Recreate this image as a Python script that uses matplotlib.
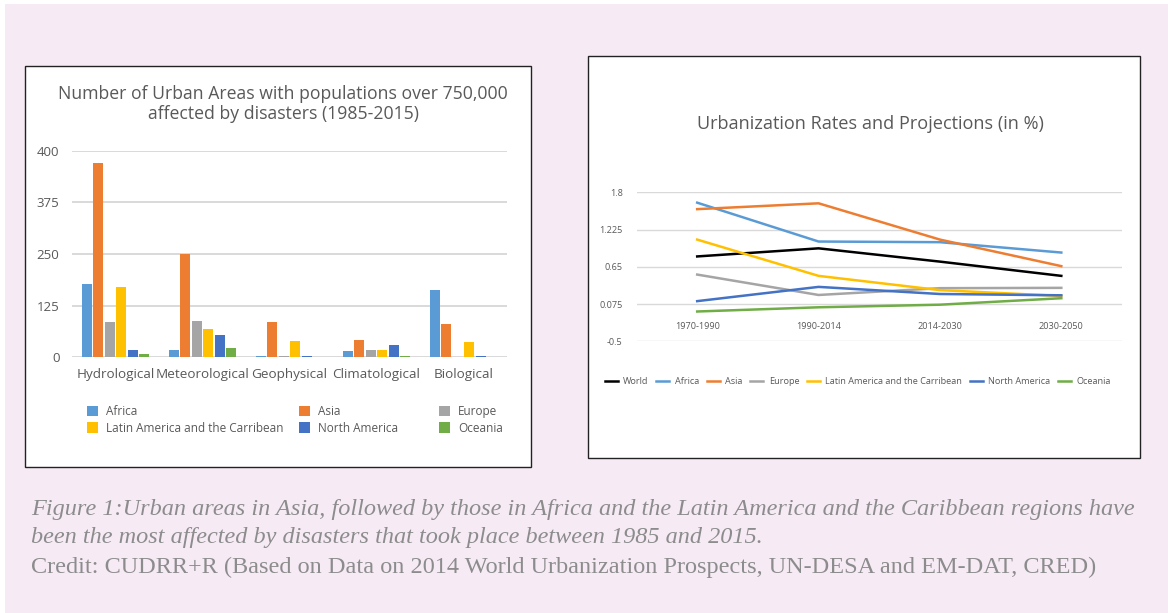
import numpy as np
import matplotlib
matplotlib.use('Agg')
import matplotlib.pyplot as plt
from matplotlib.patches import Rectangle
from matplotlib.lines import Line2D

plt.rcParams['font.family'] = ['Open Sans', 'DejaVu Sans']

# Left chart: urban areas affected by disasters (1985-2015)
disasters = ['Hydrological', 'Meteorological', 'Geophysical', 'Climatological', 'Biological']
regions = ['Africa', 'Asia', 'Europe', 'Latin America and the Carribean', 'North America', 'Oceania']
region_colors = ['#5B9BD5', '#ED7D31', '#A5A5A5', '#FFC000', '#4472C4', '#70AD47']

# bar heights as drawn against the axis (grid lines are equally spaced, labels as printed)
africa = [142, 14, 2.6, 12, 130]
asia = [376, 200, 68, 34, 65]
europe = [68, 70, 2.6, 14, 0]
latin_america = [136, 55, 32, 14, 30]
north_america = [14, 43, 2.6, 24, 2.6]
oceania = [6.5, 18, 0, 2.6, 0]
bar_ticks = [0, 100, 200, 300, 400]
bar_tick_labels = ['0', '125', '250', '375', '400']

# Right chart: urbanization rates and projections (in %)
periods = ['1970-1990', '1990-2014', '2014-2030', '2030-2050']
line_names = ['World', 'Africa', 'Asia', 'Europe', 'Latin America and the Carribean',
              'North America', 'Oceania']
line_colors = ['#000000', '#5B9BD5', '#ED7D31', '#A5A5A5', '#FFC000', '#4472C4', '#70AD47']
world = [0.81, 0.935, 0.73, 0.51]
africa_rate = [1.64, 1.04, 1.03, 0.87]
asia_rate = [1.54, 1.63, 1.07, 0.66]
europe_rate = [0.53, 0.215, 0.32, 0.325]
latin_america_rate = [1.07, 0.51, 0.29, 0.20]
north_america_rate = [0.12, 0.34, 0.23, 0.21]
oceania_rate = [-0.04, 0.025, 0.065, 0.165]
rate_ticks = [-0.5, 0.075, 0.65, 1.225, 1.8]
rate_tick_labels = ['-0.5', '0.075', '0.65', '1.225', '1.8']

caption_lines = [
    'Figure 1:Urban areas in Asia, followed by those in Africa and the Latin America and the Caribbean regions have',
    'been the most affected by disasters that took place between 1985 and 2015.',
    'Credit: CUDRR+R (Based on Data on 2014 World Urbanization Prospects, UN-DESA and EM-DAT, CRED)',
]

W, H = 1168, 613
TEXT = '#595959'
GRID = '#D9D9D9'


def fx(px):
    return px / W


def fy(py):
    return 1 - py / H


fig = plt.figure(figsize=(W / 100, H / 100), dpi=100, facecolor='white')

# pink page background and the two white chart panels
fig.add_artist(Rectangle((fx(5), 0), 1 - fx(5), fy(4), transform=fig.transFigure,
                         facecolor='#F6EBF5', edgecolor='none', zorder=-3))
fig.add_artist(Rectangle((fx(25), fy(467)), fx(531) - fx(25), fy(66) - fy(467),
                         transform=fig.transFigure, facecolor='white',
                         edgecolor='#222222', linewidth=1.0, zorder=-2))
fig.add_artist(Rectangle((fx(588), fy(458)), fx(1140) - fx(588), fy(56) - fy(458),
                         transform=fig.transFigure, facecolor='white',
                         edgecolor='#222222', linewidth=1.0, zorder=-2))

# ---- bar chart ----
ax1 = fig.add_axes([fx(72), fy(357.3), fx(507) - fx(72), (357.3 - 150.7) / H])
ax1.patch.set_alpha(0)
series = [africa, asia, europe, latin_america, north_america, oceania]
x = np.arange(len(disasters))
pitch = 0.131
for i, (vals, col) in enumerate(zip(series, region_colors)):
    ax1.bar(x + (i - 2.5) * pitch, vals, width=0.115, color=col, zorder=3)
ax1.set_xlim(-0.5, len(disasters) - 0.5)
ax1.set_ylim(0, 400)
ax1.set_yticks(bar_ticks)
ax1.set_yticklabels(bar_tick_labels)
ax1.set_xticks(x)
ax1.set_xticklabels(disasters)
ax1.grid(axis='y', color=GRID, linewidth=1.4, zorder=0)
ax1.set_axisbelow(True)
for s in ax1.spines.values():
    s.set_visible(False)
ax1.tick_params(axis='y', length=0, pad=9, labelsize=9.5, labelcolor=TEXT)
ax1.tick_params(axis='x', length=0, pad=8, labelsize=9.7, labelcolor=TEXT)

fig.text(fx(283), fy(104), 'Number of Urban Areas with populations over 750,000\naffected by disasters (1985-2015)',
         ha='center', va='center', fontsize=12.7, color=TEXT, linespacing=1.15)

# three legend columns, placed like the original
legend_cols = [(87, [0, 3]), (299, [1, 4]), (439, [2, 5])]
for left, idx in legend_cols:
    handles = [Rectangle((0, 0), 1, 1, facecolor=region_colors[k]) for k in idx]
    labels = [regions[k] for k in idx]
    fig.legend(handles, labels, loc='upper left', bbox_to_anchor=(fx(left), fy(405)),
               frameon=False, fontsize=8.5, handlelength=0.95, handleheight=1.0,
               handletextpad=0.65, labelspacing=0.3, borderpad=0, borderaxespad=0,
               labelcolor=TEXT)

# ---- line chart ----
ax2 = fig.add_axes([fx(636.5), fy(341.3), fx(1122) - fx(636.5), (341.3 - 192.3) / H])
ax2.patch.set_alpha(0)
rates = [world, africa_rate, asia_rate, europe_rate, latin_america_rate,
         north_america_rate, oceania_rate]
xp = np.arange(len(periods))
lines = []
for vals, col, name in zip(rates, line_colors, line_names):
    ln, = ax2.plot(xp, vals, color=col, linewidth=1.8, label=name, zorder=3)
    lines.append(ln)
ax2.set_xlim(-0.5, len(periods) - 0.5)
ax2.set_ylim(-0.5, 1.8)
ax2.set_yticks(rate_ticks)
ax2.set_yticklabels(rate_tick_labels)
ax2.set_xticks(xp)
ax2.set_xticklabels(periods)
ax2.grid(axis='y', color=GRID, linewidth=1.0, zorder=0)
ax2.set_axisbelow(True)
for s in ax2.spines.values():
    s.set_visible(False)
ax2.spines['bottom'].set_position(('data', 0))
ax2.tick_params(axis='y', length=0, pad=10, labelsize=6.6, labelcolor=TEXT)
ax2.tick_params(axis='x', length=0, pad=9.5, labelsize=6.6, labelcolor=TEXT)

fig.text(fx(870), fy(124), 'Urbanization Rates and Projections (in %)',
         ha='center', va='center', fontsize=13.1, color=TEXT)

fig.legend(lines, line_names, loc='center', bbox_to_anchor=(fx(858), fy(382)), ncol=7,
           frameon=False, fontsize=6.6, handlelength=1.4, handletextpad=0.6,
           columnspacing=0.85, labelcolor=TEXT)

# ---- caption ----
cap_y = [510, 538, 567]
for k, (line, yy) in enumerate(zip(caption_lines, cap_y)):
    fig.text(fx(31), fy(yy), line, ha='left', va='center', fontsize=17.5,
             family=['Liberation Serif', 'DejaVu Serif'],
             style='italic' if k < 2 else 'normal', color='#8C8C8C')

fig.savefig('out.png', dpi=100, facecolor=fig.get_facecolor())
